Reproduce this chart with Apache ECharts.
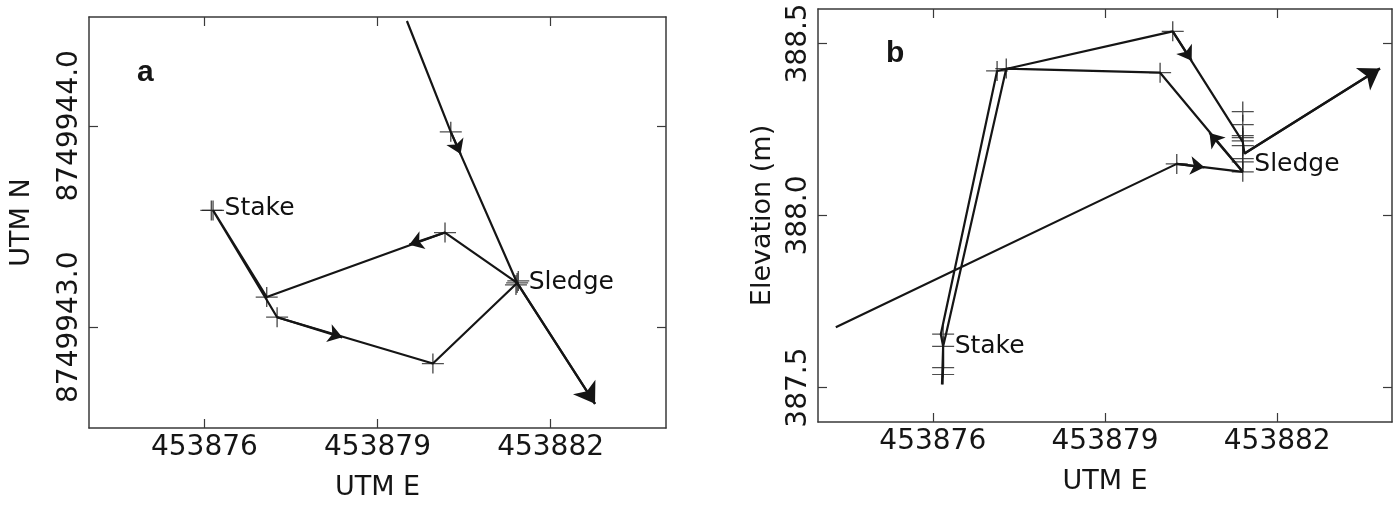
<!DOCTYPE html>
<html>
<head>
<meta charset="utf-8">
<script src="https://cdn.jsdelivr.net/npm/echarts@6/dist/echarts.min.js"></script>
<style>
  html, body { margin: 0; background: #fff; }
  #chart { width: 1400px; height: 511px; }
</style>
</head>
<body>
<div id="chart"></div>
<script>
// ---- panel a : plan view (UTM E vs UTM N) ----
var trackA = [
  [453879.51, 8749944.52],
  [453880.27, 8749943.97],
  [453881.42, 8749943.22],
  [453880.17, 8749943.47],
  [453877.08, 8749943.15],
  [453876.15, 8749943.58],
  [453877.26, 8749943.05],
  [453879.96, 8749942.82],
  [453881.42, 8749943.22],
  [453882.77, 8749942.62]
];
var crossesA = [
  [453880.27, 8749943.97],
  [453880.17, 8749943.47],
  [453877.08, 8749943.15],
  [453877.26, 8749943.05],
  [453879.96, 8749942.82],
  [453876.15, 8749943.58],
  [453876.12, 8749943.58],
  [453881.42, 8749943.22],
  [453881.40, 8749943.21],
  [453881.44, 8749943.23]
];
// [from, tip]
var arrowsA = [
  [[453880.27, 8749943.97], [453880.44, 8749943.86]],
  [[453880.17, 8749943.47], [453879.55, 8749943.41]],
  [[453877.26, 8749943.05], [453878.39, 8749942.95]]
];
var endArrowA = [[453881.42, 8749943.22], [453882.77, 8749942.62]];
var labelsA = [
  { name: "Stake", value: [453876.15, 8749943.59] },
  { name: "Sledge", value: [453881.42, 8749943.22] }
];

// ---- panel b : elevation vs UTM E ----
var trackB = [
  [453874.31, 387.675],
  [453880.25, 388.150],
  [453881.40, 388.127],
  [453879.96, 388.415],
  [453877.28, 388.427],
  [453876.23, 387.655],
  [453876.18, 387.620],
  [453876.18, 387.558],
  [453876.16, 387.509],
  [453876.18, 387.620],
  [453876.14, 387.655],
  [453877.12, 388.420],
  [453880.18, 388.535],
  [453881.40, 388.214],
  [453881.43, 388.180],
  [453883.79, 388.427]
];
var crossesB = [
  [453880.25, 388.150],
  [453879.96, 388.415],
  [453877.28, 388.427],
  [453877.12, 388.420],
  [453880.18, 388.535],
  [453876.18, 387.655],
  [453876.18, 387.620],
  [453876.18, 387.558],
  [453876.18, 387.538],
  [453881.40, 388.302],
  [453881.40, 388.264],
  [453881.40, 388.232],
  [453881.40, 388.226],
  [453881.40, 388.217],
  [453881.40, 388.203],
  [453881.40, 388.165],
  [453881.40, 388.156],
  [453881.40, 388.127]
];
var arrowsB = [
  [[453880.25, 388.150], [453880.73, 388.140]],
  [[453881.40, 388.127], [453880.82, 388.240]],
  [[453880.18, 388.535], [453880.51, 388.450]]
];
var endArrowB = [[453881.43, 388.180], [453883.79, 388.427]];
var labelsB = [
  { name: "Stake", value: [453876.18, 387.620] },
  { name: "Sledge", value: [453881.40, 388.147] }
];

// axis ticks / ranges
var xTicks = [453876, 453879, 453882];
var xRange = [453874, 453884];
var yTicksA = [8749943, 8749944];
var yRangeA = [8749942.5, 8749944.54];
var yTicksB = [387.5, 388.0, 388.5];
var yRangeB = [387.4, 388.6];

var FONT = "DejaVu Sans";
var INK = "#151515";
var CROSS = "path://M0,10L20,10M10,0L10,20";

var chartDom = document.getElementById("chart");
var myChart = echarts.init(chartDom);

function frameLine() {
  return { show: true, onZero: false, lineStyle: { color: "#3a3a3a", width: 1.5 } };
}
function ticks(vals) {
  return { show: true, inside: true, length: 9, customValues: vals, lineStyle: { color: "#3a3a3a", width: 1.2 } };
}

function xAxes(gi) {
  return [
    {
      gridIndex: gi, type: "value", position: "bottom", min: xRange[0], max: xRange[1],
      axisLine: frameLine(), axisTick: ticks(xTicks), splitLine: { show: false },
      axisLabel: {
        customValues: xTicks, margin: 6, fontSize: 28, fontFamily: FONT, color: INK,
        formatter: function (v) { return String(v); }
      },
      name: "UTM E", nameLocation: "middle", nameGap: 46,
      nameTextStyle: { fontSize: 27, fontFamily: FONT, color: INK }
    },
    {
      gridIndex: gi, type: "value", position: "top", min: xRange[0], max: xRange[1],
      axisLine: frameLine(), axisTick: ticks(xTicks), splitLine: { show: false },
      axisLabel: { show: false }
    }
  ];
}
function yAxes(gi, range, vals, name, gap) {
  return [
    {
      gridIndex: gi, type: "value", position: "left", min: range[0], max: range[1],
      axisLine: frameLine(), axisTick: ticks(vals), splitLine: { show: false },
      axisLabel: {
        customValues: vals, rotate: 90, margin: 5, fontSize: 28, fontFamily: FONT, color: INK,
        formatter: function (v) { return v.toFixed(1); }
      },
      name: name, nameLocation: "middle", nameGap: gap,
      nameTextStyle: { fontSize: 27, fontFamily: FONT, color: INK }
    },
    {
      gridIndex: gi, type: "value", position: "right", min: range[0], max: range[1],
      axisLine: frameLine(), axisTick: ticks(vals), splitLine: { show: false },
      axisLabel: { show: false }
    }
  ];
}

function panelSeries(ai, track, crosses, arrows, endArrow, labels) {
  var xi = ai * 2, yi = ai * 2;
  var arrowStyle = { color: INK, width: 2.2, opacity: 1 };
  return [
    {
      type: "line", xAxisIndex: xi, yAxisIndex: yi, data: track,
      showSymbol: false, symbol: "none", lineStyle: { color: INK, width: 2.2 }
    },
    {
      type: "scatter", xAxisIndex: xi, yAxisIndex: yi, data: crosses,
      symbol: CROSS, symbolSize: [22, 20],
      itemStyle: { color: "rgba(0,0,0,0)", borderColor: "#222", borderWidth: 1.3 }
    },
    {
      type: "lines", coordinateSystem: "cartesian2d", xAxisIndex: xi, yAxisIndex: yi,
      data: arrows.map(function (a) { return { coords: a }; }),
      symbol: ["none", "arrow"], symbolSize: [10, 14],
      itemStyle: { color: INK }, lineStyle: arrowStyle
    },
    {
      type: "lines", coordinateSystem: "cartesian2d", xAxisIndex: xi, yAxisIndex: yi,
      data: [{ coords: endArrow }],
      symbol: ["none", "arrow"], symbolSize: [15, 20],
      itemStyle: { color: INK }, lineStyle: arrowStyle
    },
    {
      type: "scatter", xAxisIndex: xi, yAxisIndex: yi, data: labels,
      symbolSize: 1, itemStyle: { color: "rgba(0,0,0,0)" },
      label: {
        show: true, position: "right", distance: 11, fontSize: 25, fontFamily: FONT,
        color: "#111", opacity: 1,
        formatter: function (p) { return p.name; }
      }
    }
  ];
}

var option = {
  animation: false,
  backgroundColor: "#fff",
  title: [
    { text: "a", left: 137, top: 58, padding: 0,
      textStyle: { fontSize: 30, fontWeight: "bold", fontFamily: "Liberation Sans", color: INK } },
    { text: "b", left: 886, top: 39, padding: 0,
      textStyle: { fontSize: 30, fontWeight: "bold", fontFamily: "Liberation Sans", color: INK } }
  ],
  grid: [
    { left: 89, top: 17, width: 577, height: 411, outerBoundsMode: "none" },
    { left: 818, top: 9, width: 574, height: 413, outerBoundsMode: "none" }
  ],
  xAxis: xAxes(0).concat(xAxes(1)),
  yAxis: yAxes(0, yRangeA, yTicksA, "UTM N", 54).concat(yAxes(1, yRangeB, yTicksB, "Elevation (m)", 42)),
  series: panelSeries(0, trackA, crossesA, arrowsA, endArrowA, labelsA)
    .concat(panelSeries(1, trackB, crossesB, arrowsB, endArrowB, labelsB))
};

option && myChart.setOption(option);
</script>
</body>
</html>
